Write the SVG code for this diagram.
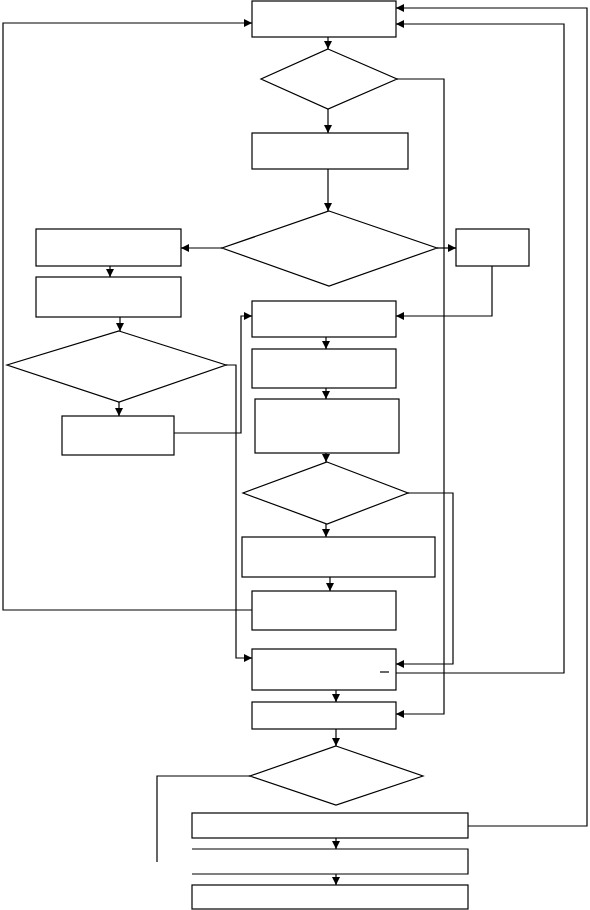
<svg xmlns="http://www.w3.org/2000/svg" width="590" height="910" viewBox="0 0 590 910">
<style>
.n{fill:#fff;stroke:#000;stroke-width:1.2}
.c{fill:none;stroke:#000;stroke-width:1.2;marker-end:url(#a)}
.l{fill:none;stroke:#000;stroke-width:1.2}
</style>
<defs>
<marker id="a" viewBox="0 0 10 10" refX="10" refY="5" markerWidth="8" markerHeight="8" markerUnits="userSpaceOnUse" orient="auto">
<path d="M0,0 L10,5 L0,10 Z" fill="#000"/>
</marker>
</defs>
<rect width="590" height="910" fill="#fff"/>
<g id="box1"><rect class="n" x="252" y="1" width="144" height="36"/></g>
<g id="dec1"><polygon class="n" points="328,49 397,79 328,109 261,79"/></g>
<g id="box2"><rect class="n" x="252" y="133" width="156" height="36"/></g>
<g id="dec2"><polygon class="n" points="329,211 437,248 329,286 222,248"/></g>
<g id="box3"><rect class="n" x="36" y="229" width="145" height="37"/></g>
<g id="box4"><rect class="n" x="456" y="229" width="73" height="37"/></g>
<g id="box3b"><rect class="n" x="36" y="277" width="145" height="40"/></g>
<g id="dec3"><polygon class="n" points="119,331 226,365 119,402 7,365"/></g>
<g id="box6"><rect class="n" x="62" y="416" width="112" height="39"/></g>
<g id="box5"><rect class="n" x="252" y="301" width="144" height="36"/></g>
<g id="box7"><rect class="n" x="252" y="349" width="144" height="39"/></g>
<g id="box8"><rect class="n" x="255" y="399" width="144" height="54"/></g>
<g id="dec4"><polygon class="n" points="327,462 408,493 327,524 243,493"/></g>
<g id="box9"><rect class="n" x="242" y="537" width="193" height="40"/></g>
<g id="box10"><rect class="n" x="252" y="591" width="144" height="39"/></g>
<g id="box12"><rect class="n" x="252" y="649" width="144" height="41"/><line class="l" x1="380" y1="672" x2="389" y2="672"/></g>
<g id="box13"><rect class="n" x="252" y="702" width="144" height="27"/></g>
<g id="dec5"><polygon class="n" points="336,746 423,776 336,805 250,776"/></g>
<g id="box14"><rect class="n" x="192" y="813" width="276" height="25"/></g>
<g id="box15"><path class="l" d="M192,849 H468 V874 H192"/></g>
<g id="box16"><rect class="n" x="192" y="885" width="276" height="24"/></g>
<g id="connectors">
<path class="c" d="M328,37 V49"/>
<path class="c" d="M328,109 V133"/>
<path class="c" d="M328,169 V211"/>
<path class="c" d="M222,248 H181"/>
<path class="c" d="M437,248 H456"/>
<path class="c" d="M492,266 V316 H396"/>
<path class="c" d="M110,266 V277"/>
<path class="c" d="M120,317 V331"/>
<path class="c" d="M119,402 V416"/>
<path class="c" d="M174,433 H241 V316 H252"/>
<path class="c" d="M226,365 H236 V658 H252"/>
<path class="c" d="M326,337 V349"/>
<path class="c" d="M326,388 V399"/>
<path class="c" d="M326,453 V462"/>
<path class="c" d="M408,493 H453 V664 H396"/>
<path class="c" d="M326,524 V537"/>
<path class="c" d="M330,577 V591"/>
<path class="c" d="M252,610 H3 V23 H252"/>
<path class="c" d="M397,79 H444 V714 H396"/>
<path class="c" d="M396,673 H564 V24 H396"/>
<path class="c" d="M336,690 V702"/>
<path class="c" d="M336,729 V746"/>
<path class="l" d="M250,776 H157 V862"/>
<path class="c" d="M468,826 H587 V8 H396"/>
<path class="c" d="M336,838 V849"/>
<path class="c" d="M336,874 V885"/>
</g>
</svg>
